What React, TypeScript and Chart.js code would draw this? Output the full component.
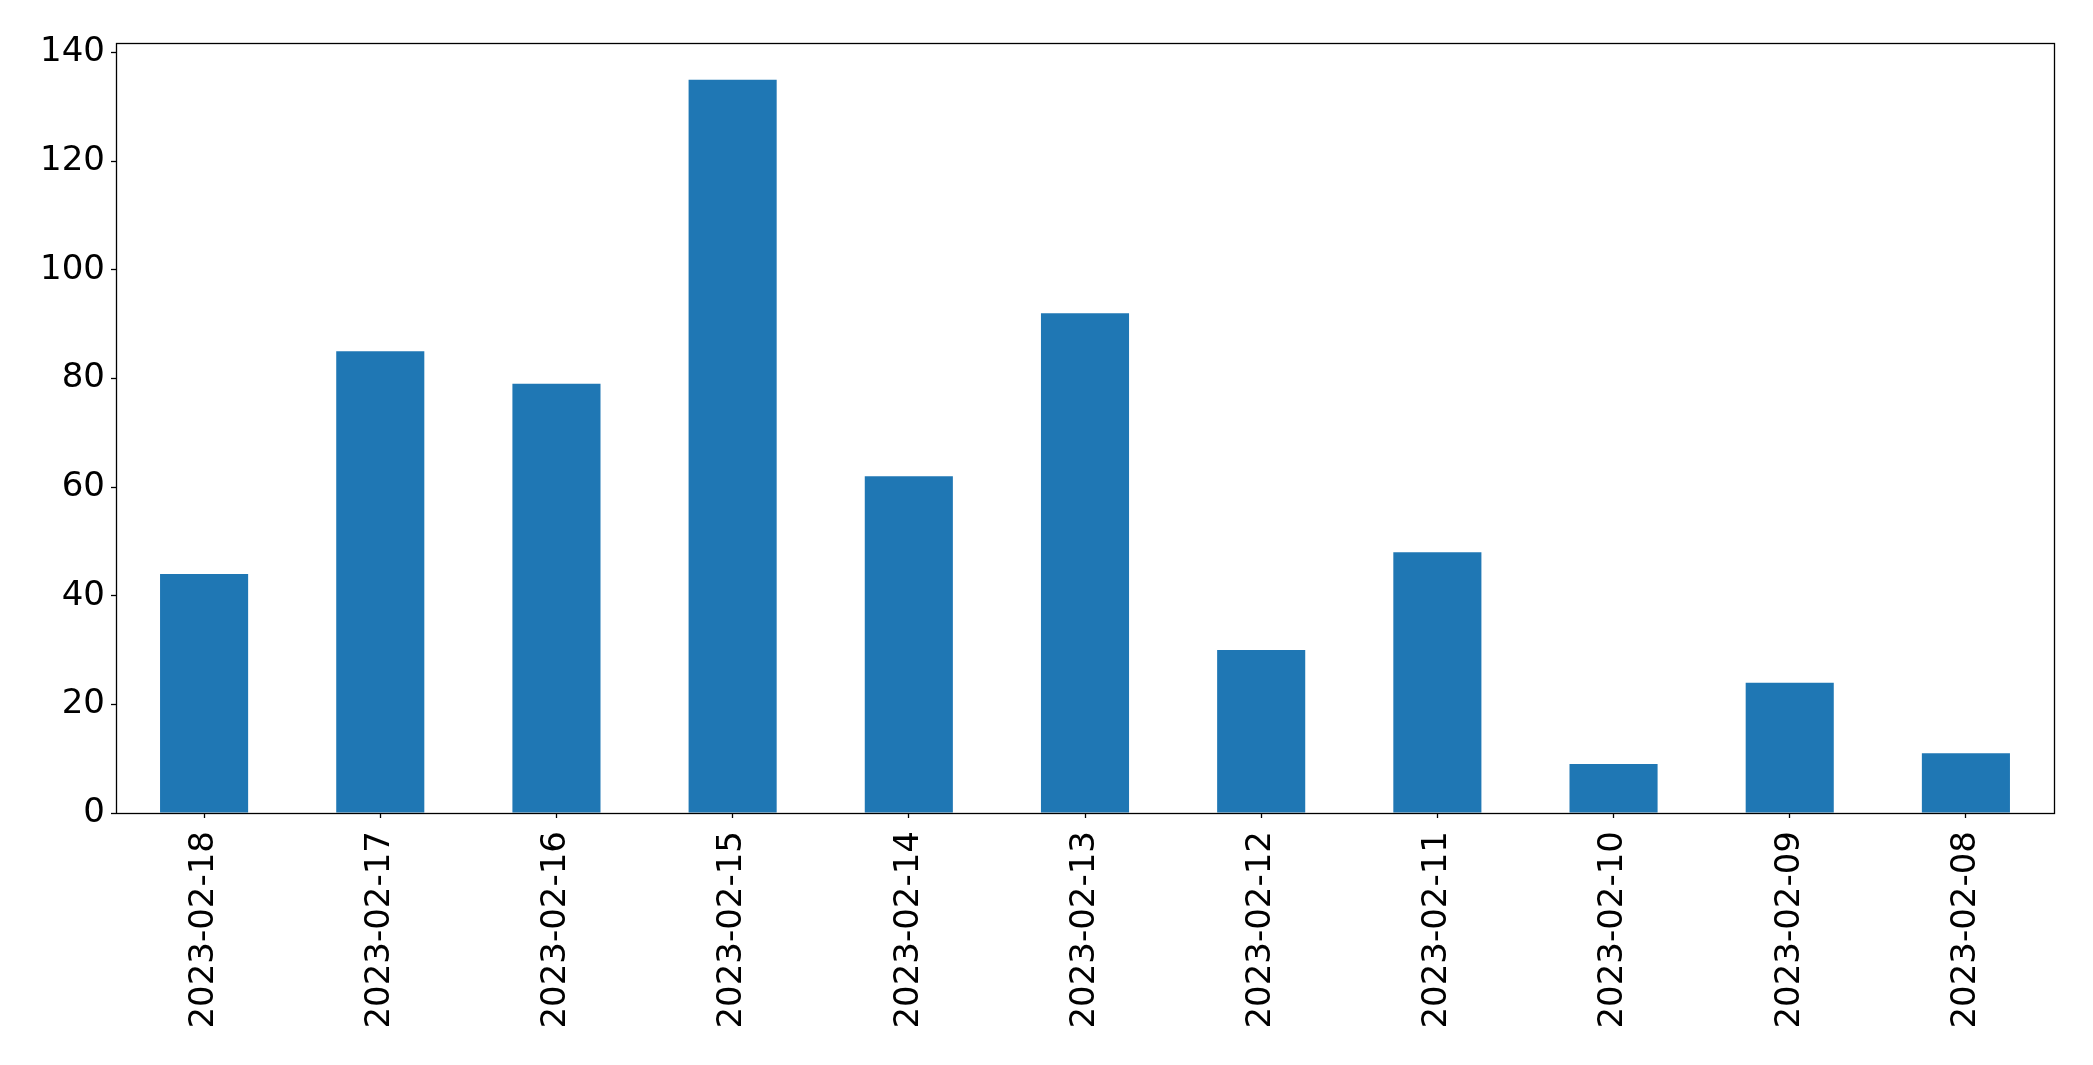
import React, { useEffect, useRef } from "react";
import { Chart, registerables } from "chart.js";

Chart.register(...registerables);

const categories: string[] = [
  "2023-02-18",
  "2023-02-17",
  "2023-02-16",
  "2023-02-15",
  "2023-02-14",
  "2023-02-13",
  "2023-02-12",
  "2023-02-11",
  "2023-02-10",
  "2023-02-09",
  "2023-02-08",
];

const counts: number[] = [44, 85, 79, 135, 62, 92, 30, 48, 9, 24, 11];

const yTickValues: number[] = [0, 20, 40, 60, 80, 100, 120, 140];

const W = 2093;
const H = 1065;

const framePlugin = {
  id: "frame",
  afterDatasetsDraw(chart: any) {
    const { ctx, chartArea } = chart;
    ctx.save();
    ctx.strokeStyle = "#000000";
    ctx.lineWidth = 1.3;
    ctx.strokeRect(
      Math.round(chartArea.left) + 0.5,
      Math.round(chartArea.top) + 0.5,
      Math.round(chartArea.right - chartArea.left),
      Math.round(chartArea.bottom - chartArea.top)
    );
    ctx.restore();
  },
};

export default function App() {
  const ref = useRef<HTMLCanvasElement | null>(null);

  useEffect(() => {
    if (!ref.current) return;
    const yMax = Math.max(...counts) * 1.05;
    const chart = new Chart(ref.current, {
      type: "bar",
      data: {
        labels: categories,
        datasets: [
          {
            data: counts,
            backgroundColor: "#1f77b4",
            borderWidth: 0,
            barPercentage: 0.5,
            categoryPercentage: 1.0,
          },
        ],
      },
      plugins: [framePlugin],
      options: {
        responsive: false,
        animation: false,
        devicePixelRatio: 1,
        layout: { padding: { left: 0, top: 43, right: 39, bottom: 0 } },
        plugins: {
          legend: { display: false },
          tooltip: { enabled: false },
          title: { display: false },
        },
        scales: {
          x: {
            offset: true,
            border: { display: false },
            grid: {
              display: true,
              drawOnChartArea: false,
              drawTicks: true,
              tickLength: 5,
              tickWidth: 1.3,
              tickColor: "#000000",
              offset: false,
            },
            ticks: {
              color: "#000000",
              font: { family: "DejaVu Sans", size: 34 },
              maxRotation: 90,
              minRotation: 90,
              autoSkip: false,
              padding: 13,
            },
            afterFit: (scale: any) => {
              scale.height = 252;
            },
          },
          y: {
            min: 0,
            max: yMax,
            border: { display: false },
            grid: {
              display: true,
              drawOnChartArea: false,
              drawTicks: true,
              tickLength: 5,
              tickWidth: 1.3,
              tickColor: "#000000",
            },
            ticks: {
              color: "#000000",
              font: { family: "DejaVu Sans", size: 34 },
              padding: 6,
            },
            afterBuildTicks: (scale: any) => {
              scale.ticks = yTickValues.map((v) => ({ value: v }));
            },
            afterFit: (scale: any) => {
              scale.width = 116;
            },
          },
        },
      },
    });
    return () => chart.destroy();
  }, []);

  return (
    <canvas
      ref={ref}
      width={W}
      height={H}
      style={{ position: "absolute", left: 0, top: 0, width: W, height: H, display: "block" }}
    />
  );
}
